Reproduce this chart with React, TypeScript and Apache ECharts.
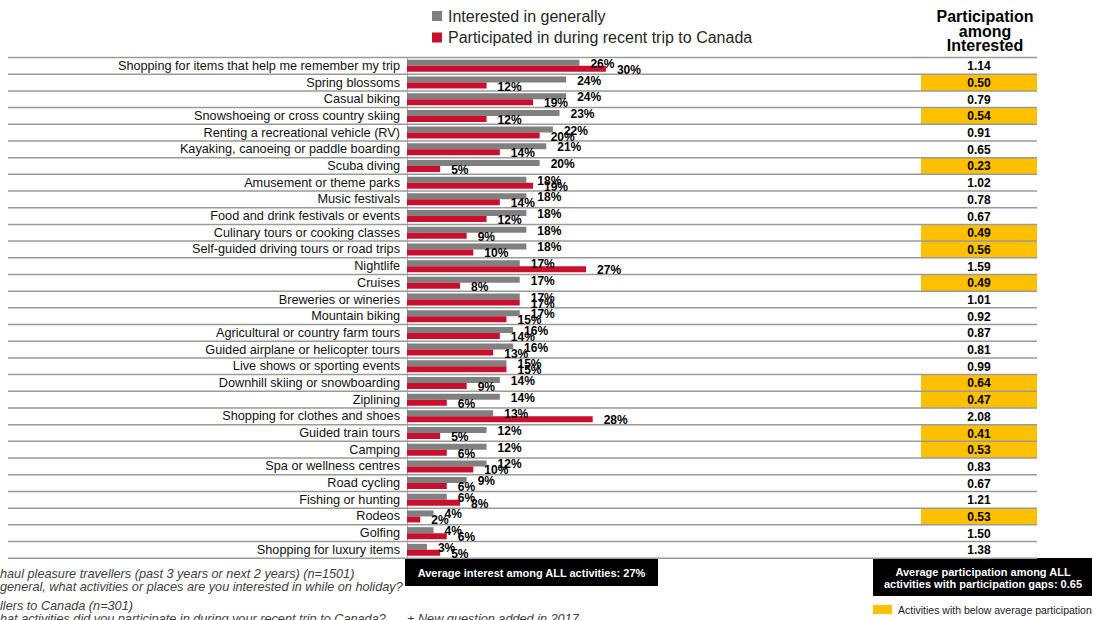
import React, { useEffect, useRef } from "react";
import * as echarts from "echarts";

const categories = [
  "Shopping for items that help me remember my trip",
  "Spring blossoms",
  "Casual biking",
  "Snowshoeing or cross country skiing",
  "Renting a recreational vehicle (RV)",
  "Kayaking, canoeing or paddle boarding",
  "Scuba diving",
  "Amusement or theme parks",
  "Music festivals",
  "Food and drink festivals or events",
  "Culinary tours or cooking classes",
  "Self-guided driving tours or road trips",
  "Nightlife",
  "Cruises",
  "Breweries or wineries",
  "Mountain biking",
  "Agricultural or country farm tours",
  "Guided airplane or helicopter tours",
  "Live shows or sporting events",
  "Downhill skiing or snowboarding",
  "Ziplining",
  "Shopping for clothes and shoes",
  "Guided train tours",
  "Camping",
  "Spa or wellness centres",
  "Road cycling",
  "Fishing or hunting",
  "Rodeos",
  "Golfing",
  "Shopping for luxury items",
];

const interested = [26, 24, 24, 23, 22, 21, 20, 18, 18, 18, 18, 18, 17, 17, 17, 17, 16, 16, 15, 14, 14, 13, 12, 12, 12, 9, 6, 4, 4, 3];
const participated = [30, 12, 19, 12, 20, 14, 5, 19, 14, 12, 9, 10, 27, 8, 17, 15, 14, 13, 15, 9, 6, 28, 5, 6, 10, 6, 8, 2, 6, 5];
const participationRatio = [1.14, 0.5, 0.79, 0.54, 0.91, 0.65, 0.23, 1.02, 0.78, 0.67, 0.49, 0.56, 1.59, 0.49, 1.01, 0.92, 0.87, 0.81, 0.99, 0.64, 0.47, 2.08, 0.41, 0.53, 0.83, 0.67, 1.21, 0.53, 1.5, 1.38];

const avgInterest = 27;
const avgParticipation = 0.65;

const seriesNames = ["Interested in generally", "Participated in during recent trip to Canada"];
const tableHeader = ["Participation", "among", "Interested"];
const footnotes = [
  "haul pleasure travellers (past 3 years or next 2 years) (n=1501)",
  "general, what activities or places are you interested in while on holiday?",
  "llers to Canada (n=301)",
  "hat activities did you participate in during your recent trip to Canada?",
];
const newQuestionNote = "+ New question added in 2017";
const highlightLegend = "Activities with below average participation";

const FONT = '"Liberation Sans", Arial, sans-serif';
const GRAY = "#808080";
const RED = "#C8102E";
const GOLD = "#FFC000";

export default function App() {
  const ref = useRef<HTMLDivElement>(null);

  useEffect(() => {
    if (!ref.current) return;
    const chart = echarts.init(ref.current, undefined, { renderer: "svg" });

    const labelStyle = {
      show: true,
      position: "right" as const,
      distance: 11,
      offset: [0, 1],
      formatter: "{c}%",
      fontFamily: FONT,
      fontWeight: "bold" as const,
      fontSize: 12,
      color: "#000",
    };

    const center = (extra: any) => ({
      textAlign: "center",
      textVerticalAlign: "middle",
      align: "center",
      verticalAlign: "middle",
      ...extra,
    });
    const leftMid = (extra: any) => ({
      textAlign: "left",
      textVerticalAlign: "middle",
      align: "left",
      verticalAlign: "middle",
      ...extra,
    });

    const option: any = {
      animation: false,
      backgroundColor: "#fff",
      grid: { left: 407, right: 66, top: 57.5, bottom: 61.8, containLabel: false },
      legend: {
        data: seriesNames,
        orient: "vertical",
        left: 432,
        top: 8,
        padding: 0,
        icon: "rect",
        itemWidth: 10,
        itemHeight: 10,
        itemGap: 5.5,
        textStyle: { fontFamily: FONT, fontSize: 16, color: "#262626", lineHeight: 16, padding: [0, 0, 0, 1] },
        selectedMode: false,
      },
      xAxis: { type: "value", min: 0, max: 95, show: false, splitLine: { show: false } },
      yAxis: {
        type: "category",
        data: categories,
        inverse: true,
        axisTick: { show: false },
        axisLine: { show: true, lineStyle: { color: "#b0b0b0", width: 1 } },
        axisLabel: { interval: 0, fontFamily: FONT, fontSize: 12.7, color: "#111", margin: 7 },
        splitLine: { show: false },
      },
      series: [
        {
          type: "custom",
          silent: true,
          z: 1,
          clip: false,
          data: participationRatio.map((r, i) => [0, i, r]),
          encode: { x: 0, y: 1 },
          renderItem: (params: any, api: any) => {
            const i = api.value(1);
            const ratio = api.value(2);
            const c = api.coord([0, i]);
            const band = api.size([0, 1])[1];
            const top = c[1] - band / 2;
            const children: any[] = [];
            if (ratio < avgParticipation) {
              children.push({
                type: "rect",
                shape: { x: 921, y: top, width: 116, height: band },
                style: { fill: GOLD },
              });
            }
            children.push({
              type: "line",
              shape: { x1: 8, y1: top, x2: 1037, y2: top },
              style: { stroke: "#9a9a9a", lineWidth: 1.5 },
            });
            if (i === categories.length - 1) {
              children.push({
                type: "line",
                shape: { x1: 8, y1: top + band, x2: 1037, y2: top + band },
                style: { stroke: "#9a9a9a", lineWidth: 1.5 },
              });
            }
            children.push({
              type: "text",
              x: 979,
              y: c[1] + 0.5,
              style: center({ text: ratio.toFixed(2), font: `bold 12px ${FONT}`, fill: "#000" }),
            });
            return { type: "group", children };
          },
        },
        {
          name: seriesNames[0],
          type: "bar",
          data: interested,
          barWidth: 6,
          barGap: "0%",
          z: 3,
          itemStyle: { color: GRAY },
          label: labelStyle,
        },
        {
          name: seriesNames[1],
          type: "bar",
          data: participated,
          barWidth: 6,
          barGap: "0%",
          z: 3,
          itemStyle: { color: RED },
          label: labelStyle,
        },
      ],
      graphic: [
        {
          type: "text",
          x: 985,
          y: 31,
          style: center({ text: tableHeader.join("\n"), font: `bold 16px ${FONT}`, lineHeight: 14.5, fill: "#000" }),
        },
        { type: "rect", shape: { x: 405, y: 559, width: 253, height: 27 }, style: { fill: "#000" } },
        {
          type: "text",
          x: 531.5,
          y: 572.5,
          style: center({
            text: `Average interest among ALL activities: ${avgInterest}%`,
            font: `bold 11px ${FONT}`,
            fill: "#fff",
          }),
        },
        { type: "rect", shape: { x: 873, y: 558, width: 219, height: 38 }, style: { fill: "#000" } },
        {
          type: "text",
          x: 983,
          y: 578,
          style: center({
            text: `Average participation among ALL\nactivities with participation gaps: ${avgParticipation.toFixed(2)}`,
            font: `bold 11px ${FONT}`,
            lineHeight: 11.5,
            fill: "#fff",
          }),
        },
        { type: "rect", shape: { x: 873, y: 605, width: 19, height: 9 }, style: { fill: GOLD } },
        {
          type: "text",
          x: 898,
          y: 609.5,
          style: leftMid({ text: highlightLegend, font: `10.5px ${FONT}`, fill: "#222" }),
        },
        ...footnotes.map((t, k) => ({
          type: "text",
          x: 0,
          y: [573.5, 586.5, 605.5, 618.5][k],
          style: leftMid({ text: t, font: `italic 12.7px ${FONT}`, fill: "#404040" }),
        })),
        {
          type: "text",
          x: 407,
          y: 618.5,
          style: leftMid({ text: newQuestionNote, font: `italic 12.7px ${FONT}`, fill: "#404040" }),
        },
      ],
    };

    chart.setOption(option);
    return () => chart.dispose();
  }, []);

  return <div ref={ref} style={{ position: "fixed", left: 0, top: 0, width: 1103, height: 620 }} />;
}
